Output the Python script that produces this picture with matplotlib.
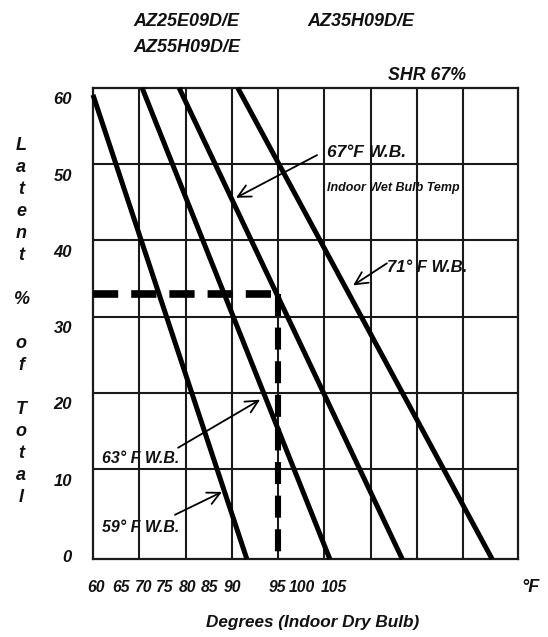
import matplotlib
matplotlib.use('Agg')
import matplotlib.pyplot as plt
from matplotlib.transforms import ScaledTranslation, blended_transform_factory

# ---------------- data ----------------
wb_labels = ['59', '63', '67', '71']           # indoor wet bulb temps (°F)
wb_db_top = [60.0, 69.3, 76.3, 87.4]           # dry bulb at upper end
wb_lat_top = [59.1, 60.0, 60.0, 60.0]          # latent % at upper end
wb_db_bottom = [89.1, 104.8, 118.5, 135.5]     # dry bulb at lower end
wb_lat_bottom = [-1.8, -1.8, -1.8, -1.8]       # latent % at lower end

shr_latent = 33.0      # SHR 67% -> 33% latent
shr_db = 95.0          # dry bulb read-off

x_tick_labels = ['60', '65', '70', '75', '80', '85', '90', '95', '100', '105']
x_tick_pos = [60.6, 65.3, 69.5, 73.6, 77.8, 82.1, 86.3, 94.8, 99.5, 105.6]
y_tick_values = [0, 10, 20, 30, 40, 50, 60]
x_grid = [68.75, 77.5, 86.25, 95.0, 103.75, 112.5, 121.25, 130.0]
y_grid = [10, 20, 30, 40, 50]

titles = ['AZ25E09D/E', 'AZ55H09D/E', 'AZ35H09D/E', 'SHR 67%']
ylabel_text = 'Latent % of Total'
xlabel_text = 'Degrees (Indoor Dry Bulb)'

# ---------------- figure ----------------
W, H = 548, 637
fig = plt.figure(figsize=(W / 100, H / 100), dpi=100)
fig.patch.set_facecolor('white')
ax = fig.add_axes([93 / W, 1 - 559 / H, (518 - 93) / W, (559 - 88) / H])
ax.set_xlim(60, 140.4)
ax.set_ylim(-1.8, 60)

FONT = ['Liberation Sans', 'DejaVu Sans']
fk = dict(family=FONT, weight='bold', style='italic', color='#111111')


def fpx(x, y):
    return x / W, 1 - y / H


# grid
for gx in x_grid:
    ax.axvline(gx, color='#1a1a1a', lw=1.5, zorder=1)
for gy in y_grid:
    ax.axhline(gy, color='#1a1a1a', lw=1.5, zorder=1)
for s in ax.spines.values():
    s.set_linewidth(1.6)
    s.set_color('#1a1a1a')
ax.set_xticks([])
ax.set_yticks([])

# wet bulb lines
for i in range(len(wb_labels)):
    ax.plot([wb_db_top[i], wb_db_bottom[i]], [wb_lat_top[i], wb_lat_bottom[i]],
            color='black', lw=3.6, solid_capstyle='butt', zorder=3, clip_on=False)

# SHR dashed read-off
ax.plot([60, shr_db], [shr_latent, shr_latent], color='black', lw=5.5,
        dashes=(3.3, 1.7), dash_capstyle='butt', zorder=4)
ax.plot([shr_db, shr_db], [shr_latent, -1.8], color='black', lw=4.4,
        dashes=(3.6, 1.9), dash_capstyle='butt', zorder=4)

# annotations
arrow = dict(arrowstyle='->,head_length=0.9,head_width=0.45', color='black', lw=1.3,
             shrinkA=0, shrinkB=0)
ax.annotate('', xy=(87.05, 45.6), xytext=(102.4, 51.2), arrowprops=arrow, zorder=5)
ax.text(104.3, 51.5, wb_labels[2] + '°F W.B.', fontsize=12.5, va='center', ha='left', **fk)
ax.text(104.3, 46.9, 'Indoor Wet Bulb Temp', fontsize=9, va='center', ha='left', **fk)

ax.annotate('', xy=(109.2, 34.1), xytext=(115.6, 37.0), arrowprops=arrow, zorder=5)
ax.text(115.6, 36.4, wb_labels[3] + '° F W.B.', fontsize=12, va='center', ha='left', **fk)

ax.annotate('', xy=(91.6, 19.1), xytext=(76.1, 12.8), arrowprops=arrow, zorder=5)
ax.text(61.7, 11.4, wb_labels[1] + '° F W.B.', fontsize=11.5, va='center', ha='left', **fk)

ax.annotate('', xy=(84.4, 7.0), xytext=(75.5, 4.0), arrowprops=arrow, zorder=5)
ax.text(61.7, 2.3, wb_labels[0] + '° F W.B.', fontsize=11.5, va='center', ha='left', **fk)

# y tick labels (offset slightly below their grid line, as in the source chart)
ytr = blended_transform_factory(ax.transAxes, ax.transData) + \
    ScaledTranslation(0, -0.12, fig.dpi_scale_trans)
for v in y_tick_values:
    ax.text(-21 / 425, v, str(v), transform=ytr, ha='right', va='center',
            fontsize=12, **fk)

# x tick labels
xtr = blended_transform_factory(ax.transData, fig.transFigure)
for p, lab in zip(x_tick_pos, x_tick_labels):
    ax.text(p, 1 - 587 / H, lab, transform=xtr, ha='center', va='center',
            fontsize=11.3, **fk)

fig.text(*fpx(530, 587), '°F', ha='center', va='center', fontsize=13, **fk)
fig.text(*fpx(313, 622), xlabel_text, ha='center', va='center', fontsize=12.3, **fk)

# vertical stacked y label
lines = ['L', 'a', 't', 'e', 'n', 't', '', '%', '', 'o', 'f', '', 'T', 'o', 't', 'a', 'l']
for i, ch in enumerate(lines):
    if ch:
        fig.text(*fpx(21, 145 + 22 * i), ch, ha='center', va='center', fontsize=13, **fk)

# titles
fig.text(*fpx(133, 22), titles[0], ha='left', va='center', fontsize=13, **fk)
fig.text(*fpx(133, 48), titles[1], ha='left', va='center', fontsize=13, **fk)
fig.text(*fpx(307, 22), titles[2], ha='left', va='center', fontsize=13, **fk)
fig.text(*fpx(388, 75), titles[3], ha='left', va='center', fontsize=12.8, **fk)

fig.savefig('out.png', dpi=100, facecolor='white')
